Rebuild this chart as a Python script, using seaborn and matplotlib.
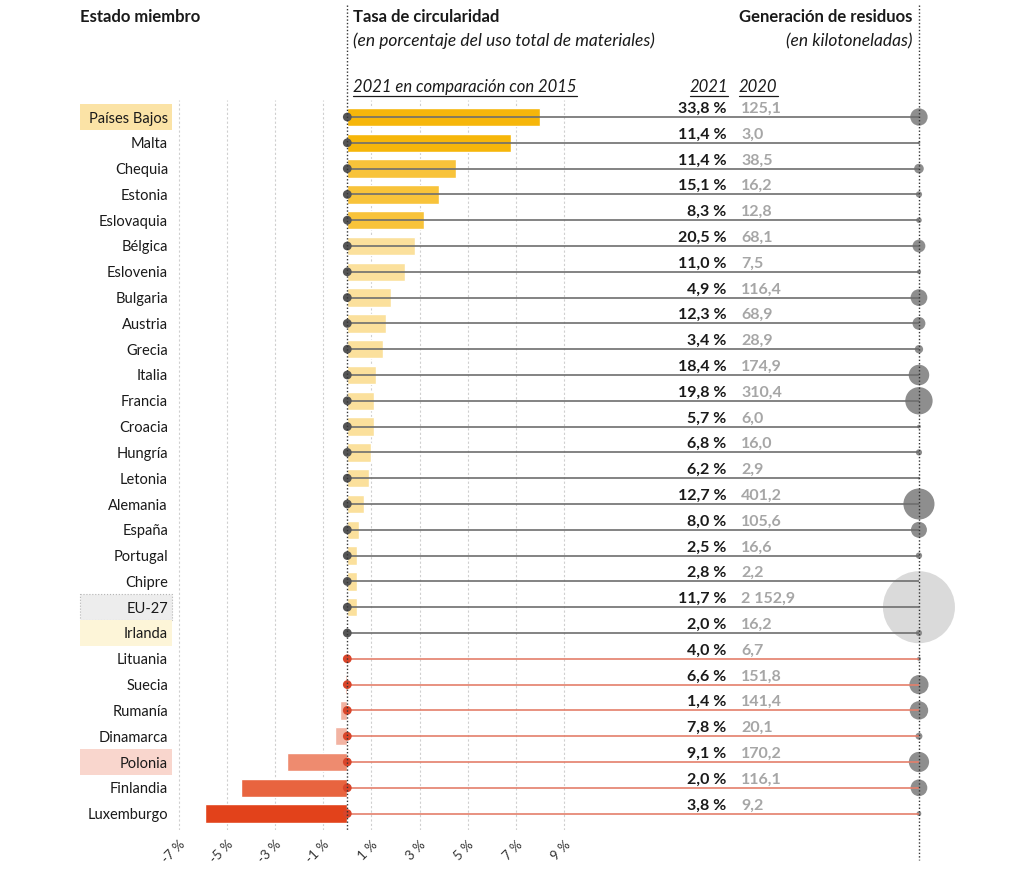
import numpy as np
import pandas as pd
import matplotlib
matplotlib.use("Agg")
import matplotlib.pyplot as plt
import matplotlib.transforms as mtransforms
from matplotlib.patches import Rectangle
from matplotlib.lines import Line2D
import seaborn as sns

countries = ['Países Bajos', 'Malta', 'Chequia', 'Estonia', 'Eslovaquia', 'Bélgica',
             'Eslovenia', 'Bulgaria', 'Austria', 'Grecia', 'Italia', 'Francia', 'Croacia',
             'Hungría', 'Letonia', 'Alemania', 'España', 'Portugal', 'Chipre', 'EU-27',
             'Irlanda', 'Lituania', 'Suecia', 'Rumanía', 'Dinamarca', 'Polonia',
             'Finlandia', 'Luxemburgo']
change_vs_2015 = [8.0, 6.8, 4.5, 3.8, 3.2, 2.8, 2.4, 1.8, 1.6, 1.5, 1.2, 1.1, 1.1, 1.0,
                  0.9, 0.7, 0.5, 0.4, 0.4, 0.4, 0.0, -0.02, -0.1, -0.3, -0.5, -2.5,
                  -4.4, -5.9]
rate_2021 = [33.8, 11.4, 11.4, 15.1, 8.3, 20.5, 11.0, 4.9, 12.3, 3.4, 18.4, 19.8, 5.7,
             6.8, 6.2, 12.7, 8.0, 2.5, 2.8, 11.7, 2.0, 4.0, 6.6, 1.4, 7.8, 9.1, 2.0, 3.8]
waste_2020 = [125.1, 3.0, 38.5, 16.2, 12.8, 68.1, 7.5, 116.4, 68.9, 28.9, 174.9, 310.4,
              6.0, 16.0, 2.9, 401.2, 105.6, 16.6, 2.2, 2152.9, 16.2, 6.7, 151.8, 141.4,
              20.1, 170.2, 116.1, 9.2]
tick_values = [-7, -5, -3, -1, 1, 3, 5, 7, 9]

df = pd.DataFrame({'country': countries, 'change': change_vs_2015,
                   'rate': rate_2021, 'waste': waste_2020})
n = len(df)
rows = np.arange(n)

# colours per bar
def bar_color(i, v):
    if i < 2:
        return '#F6B60A'
    if i < 5:
        return '#F8C33A'
    if v >= 0:
        return '#FBE09C'
    if v > -1:
        return '#F2B3A2'
    if v > -3:
        return '#EE8B6F'
    if v > -5:
        return '#E8643F'
    return '#E2421B'

bar_colors = [bar_color(i, v) for i, v in enumerate(df['change'])]
neg_rows = df['country'].isin(['Lituania', 'Suecia', 'Rumanía', 'Dinamarca',
                               'Polonia', 'Finlandia', 'Luxemburgo']).values

sns.set_theme(style='white')
plt.rcParams['font.family'] = ['Lato', 'DejaVu Sans']

fig = plt.figure(figsize=(10.24, 8.92), dpi=100)
W, H = 1024, 892
ax = fig.add_axes([175 / W, 1 - 830 / H, (960 - 175) / W, (830 - 100) / H])

sns.barplot(data=df, x='change', y='country', hue='country', palette=bar_colors,
            legend=False, orient='h', width=0.72, saturation=1, ax=ax, zorder=2)

x_end = 23.72     # position of the waste bubbles
x_rate = 15.74
x_waste = 16.34

# connecting lines and start dots
for i in rows:
    col = '#E47F6B' if neg_rows[i] else '#6E6E6E'
    ax.plot([0, x_end], [i, i], color=col, lw=1.2, zorder=3, solid_capstyle='butt')
dot_cols = ['#D9452A' if neg else '#555555' for neg in neg_rows]
ax.scatter(np.zeros(n), rows, s=40, c=dot_cols, zorder=4, linewidths=0)

# waste bubbles (area proportional)
d_max_px = 72
diam = d_max_px * np.sqrt(df['waste'] / df['waste'].max())
sizes = (diam * 0.72) ** 2
bub_cols = ['#DADADA' if c == 'EU-27' else '#8E8E8E' for c in countries]
ax.scatter(np.full(n, x_end), rows, s=sizes, c=bub_cols, zorder=2.5, linewidths=0)

# value texts
def fmt(v):
    s = f"{v:,.1f}".replace(',', ' ').replace('.', ',')
    return s

for i in rows:
    ax.text(x_rate, i - 0.32, f"{df['rate'][i]:.1f} %".replace('.', ','), ha='right',
            va='center', fontsize=11.5, fontweight='bold', color='#1a1a1a', zorder=5)
    ax.text(x_waste, i - 0.32, fmt(df['waste'][i]), ha='left', va='center',
            fontsize=11.5, fontweight='bold', color='#A6A6A6', zorder=5)

ax.set_xlim((175 - 347.3) / 24.1, (960 - 347.3) / 24.1)
ax.set_ylim((830 - 117) / 25.8, (100 - 117) / 25.8)
ax.set_xticks(tick_values)
ax.set_xticklabels([f"{t} %" for t in tick_values], rotation=45, ha='right',
                   rotation_mode='anchor', fontsize=9.5, color='#333333')
ax.tick_params(axis='x', length=0, pad=6)
ax.tick_params(axis='y', length=0, pad=5, labelsize=10.5, labelcolor='#1a1a1a')
ax.set_xlabel('')
ax.set_ylabel('')
ax.xaxis.grid(True, color='#CFCFCF', lw=0.8, linestyle=(0, (2, 2)))
ax.yaxis.grid(False)
ax.set_axisbelow(True)
for s in ax.spines.values():
    s.set_visible(False)

# highlight boxes behind labels
btr = mtransforms.blended_transform_factory(fig.transFigure, ax.transData)
boxes = {'Países Bajos': ('#FBE3A6', None), 'EU-27': ('#EDEDED', '#B5B5B5'),
         'Irlanda': ('#FDF5D8', None), 'Polonia': ('#F9D6CD', None)}
for name, (fc, ec) in boxes.items():
    i = countries.index(name)
    r = Rectangle((80 / W, i - 0.5), 92 / W, 1.0, transform=btr, facecolor=fc,
                  edgecolor=ec if ec else 'none', lw=0.8, linestyle=':', clip_on=False,
                  zorder=0.5)
    ax.add_patch(r)

# dotted vertical reference lines
vtr = mtransforms.blended_transform_factory(ax.transData, fig.transFigure)
fig.lines.append(Line2D([0, 0], [1 - 5 / H, 1 - 830 / H], transform=vtr,
                        color='#333333', lw=1.0, linestyle=(0, (1, 1.5)), zorder=6))
fig.lines.append(Line2D([x_end, x_end], [1 - 5 / H, 1 - 860 / H], transform=vtr,
                        color='#333333', lw=1.0, linestyle=(0, (1, 1.5)), zorder=6))

# headers
fig.text(80 / W, 1 - 17 / H, 'Estado miembro', fontsize=12, fontweight='bold',
         va='center', color='#1a1a1a')
fig.text(353 / W, 1 - 17 / H, 'Tasa de circularidad', fontsize=12, fontweight='bold',
         va='center', color='#1a1a1a')
fig.text(353 / W, 1 - 41 / H, '(en porcentaje del uso total de materiales)',
         fontsize=12.5, style='italic', va='center', color='#1a1a1a')
fig.text(912 / W, 1 - 17 / H, 'Generación de residuos', fontsize=12, fontweight='bold',
         va='center', ha='right', color='#1a1a1a')
fig.text(912 / W, 1 - 41 / H, '(en kilotoneladas)', fontsize=12.5, style='italic',
         va='center', ha='right', color='#1a1a1a')
u1 = fig.text(353 / W, 1 - 87 / H, '2021 en comparación con 2015', fontsize=12,
              style='italic', va='center', color='#1a1a1a')
u2 = fig.text(728 / W, 1 - 87 / H, '2021', fontsize=12, style='italic', va='center',
              ha='right', color='#1a1a1a')
u3 = fig.text(739 / W, 1 - 87 / H, '2020', fontsize=12, style='italic', va='center',
              ha='left', color='#1a1a1a')

fig.canvas.draw()
r = fig.canvas.get_renderer()
for t in (u1, u2, u3):
    bb = t.get_window_extent(r)
    y = (bb.y0 - 1) / H
    fig.lines.append(Line2D([bb.x0 / W, bb.x1 / W], [y, y], transform=fig.transFigure,
                            color='#1a1a1a', lw=0.9))

fig.savefig('out.png', dpi=100)
